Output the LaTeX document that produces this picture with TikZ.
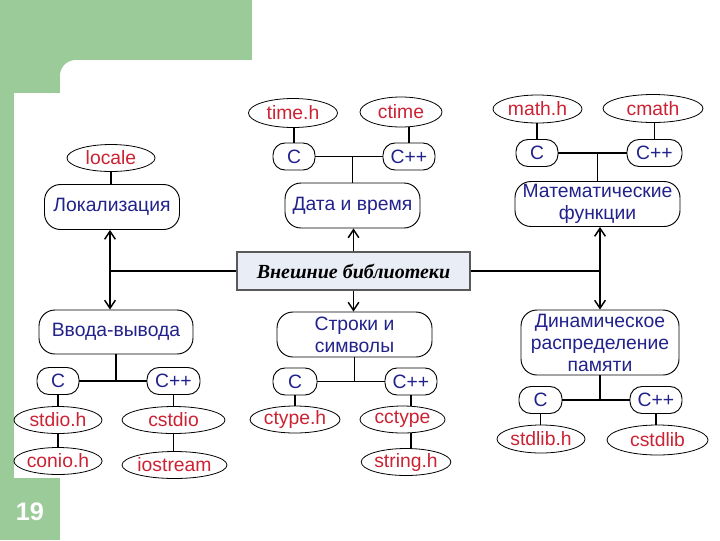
\documentclass[tikz,border=0pt]{standalone}
\usepackage{fontspec}
\setmainfont{Liberation Sans}
\newfontfamily\libserif{Liberation Serif}
\usetikzlibrary{arrows.meta,shapes.geometric}
\definecolor{slgreen}{HTML}{9CCB9A}
\definecolor{navy}{HTML}{22228C}
\definecolor{hred}{HTML}{CC2233}
\definecolor{cfill}{HTML}{E9EDF6}
\begin{document}
\begin{tikzpicture}[x=0.75pt,y=-0.75pt,
  sz/.style 2 args={minimum width={#1*0.75pt}, minimum height={#2*0.75pt}},
  rbox/.style={draw, line width=0.7pt, rounded corners=12pt, inner sep=0pt, align=center,
    text=navy, font=\fontsize{14.5}{16.5}\selectfont},
  cbox/.style={draw, line width=0.7pt, rounded corners=9pt, inner sep=0pt,
    text=navy, font=\fontsize{14.5}{16.5}\selectfont},
  ell/.style={draw, ellipse, line width=0.6pt, inner sep=0pt,
    text=hred, font=\fontsize{14.5}{16.5}\selectfont},
  conn/.style={line width=0.9pt},
  arr/.style={line width=1.1pt, -{Straight Barb[length=6pt,width=8pt]}}
]
\useasboundingbox (0,0) rectangle (720,540);
% background
\fill[white] (0,0) rectangle (720,540);
\fill[slgreen] (0,0) rectangle (252,60);
\fill[slgreen] (0,0) rectangle (60,93);
\fill[slgreen] (0,0) rectangle (14,540);
\fill[slgreen] (0,478) rectangle (60,540);
\fill[slgreen] (60,60) rectangle (76,76);
\fill[white] (76,76) circle[radius=12pt];
\node[text=white, font=\fontsize{19}{21}\selectfont\bfseries] (num) at (30,512) {19};

% central
\node[draw=black!65, fill=cfill, line width=0.8pt, sz={233}{38}, inner sep=0pt,
  font=\libserif\fontsize{15}{17}\selectfont\bfseries\itshape] (ext) at (353.5,271) {Внешние библиотеки};

% Локализация
\node[rbox, sz={135}{45}] (lok) at (112,207) {Локализация};
\node[ell, sz={88}{27}] (locale) at (111,158) {locale};

% Дата и время
\node[rbox, sz={135}{45}] (dt) at (352.5,205.5) {Дата и время};
\node[cbox, sz={42}{27}] (dtC) at (294,156.5) {C};
\node[cbox, sz={52}{27}] (dtCpp) at (409,156.5) {C++};
\node[ell, sz={89}{29}] (timeh) at (293,113) {time.h};
\node[ell, sz={82}{30}] (ctime) at (401,112) {ctime};

% Математические функции
\node[rbox, sz={165}{45}] (mat) at (597.5,204) {Математические\\функции};
\node[cbox, sz={42}{27}] (matC) at (537,153) {C};
\node[cbox, sz={55}{27}] (matCpp) at (654.5,153) {C++};
\node[ell, sz={89}{28}] (mathh) at (537.5,109) {math.h};
\node[ell, sz={100}{28}] (cmath) at (653,108.5) {cmath};

% Ввода-вывода
\node[rbox, sz={154}{44}] (vv) at (116,332) {Ввода-вывода};
\node[cbox, sz={42}{27}] (vvC) at (58,381) {C};
\node[cbox, sz={53}{27}] (vvCpp) at (173.5,381) {C++};
\node[ell, sz={88}{27}] (stdio) at (58,420) {stdio.h};
\node[ell, sz={88}{27}] (conio) at (58,461) {conio.h};
\node[ell, sz={103}{27}] (cstdio) at (173.5,420) {cstdio};
\node[ell, sz={105}{27}] (iostream) at (174.5,465) {iostream};

% Строки и символы
\node[rbox, sz={155}{45}] (str) at (354.5,334.5) {Строки и\\символы};
\node[cbox, sz={44}{27}] (strC) at (295,381.5) {C};
\node[cbox, sz={52}{27}] (strCpp) at (411,381.5) {C++};
\node[ell, sz={90}{27}] (ctype) at (295,419.5) {ctype.h};
\node[ell, sz={85}{27}] (cctype) at (402.5,419.5) {cctype};
\node[ell, sz={88}{27}] (stringh) at (406,462) {string.h};

% Динамическое распределение памяти
\node[rbox, sz={158}{65}] (din) at (600,342.5) {Динамическое\\распределение\\памяти};
\node[cbox, sz={43}{27}] (dinC) at (540.5,400) {C};
\node[cbox, sz={52}{27}] (dinCpp) at (656,400) {C++};
\node[ell, sz={88}{28}] (stdlib) at (541,439) {stdlib.h};
\node[ell, sz={101}{30}] (cstdlib) at (657.5,440) {cstdlib};

% junctions
\coordinate (jl) at (110,271);
\coordinate (jr) at (600,271);

% main connectors
\draw[conn] (ext.west) -- (jl);
\draw[conn] (ext.east) -- (jr);
\draw[arr] (jl) -- (jl |- lok.south);
\draw[arr] (jl) -- (jl |- vv.north);
\draw[arr] (jr) -- (jr |- mat.south);
\draw[arr] (jr) -- (jr |- din.north);
\draw[arr] (ext.north) -- (ext.north |- dt.south);
\draw[arr] (ext.south) -- (ext.south |- str.north);

% Локализация
\draw[conn] (lok.north -| locale.south) -- (locale.south);

% Дата и время
\draw[conn] (dtC.east) -- (dtCpp.west);
\draw[conn] (dt.north) -- (dt.north |- dtC.east);
\draw[conn] (dtC.north) -- (dtC.north |- timeh.south);
\draw[conn] (dtCpp.north) -- (dtCpp.north |- ctime.south);

% Математические
\draw[conn] (matC.east) -- (matCpp.west);
\draw[conn] (mat.north) -- (mat.north |- matC.east);
\draw[conn] (matC.north) -- (matC.north |- mathh.south);
\draw[conn] (matCpp.north) -- (matCpp.north |- cmath.south);

% Ввода-вывода
\draw[conn] (vvC.east) -- (vvCpp.west);
\draw[conn] (vv.south) -- (vv.south |- vvC.east);
\draw[conn] (vvC.south) -- (vvC.south |- stdio.north);
\draw[conn] (stdio.south) -- (stdio.south |- conio.north);
\draw[conn] (vvCpp.south) -- (vvCpp.south |- cstdio.north);
\draw[conn] (vvCpp.south |- cstdio.south) -- (vvCpp.south |- iostream.north);

% Строки
\draw[conn] (strC.east) -- (strCpp.west);
\draw[conn] (str.south) -- (str.south |- strC.east);
\draw[conn] (strC.south) -- (strC.south |- ctype.north);
\draw[conn] (strCpp.south) -- (strCpp.south |- cctype.north);
\draw[conn] (strCpp.south |- cctype.south) -- (strCpp.south |- stringh.north);

% Динамическое
\draw[conn] (dinC.east) -- (dinCpp.west);
\draw[conn] (din.south) -- (din.south |- dinC.east);
\draw[conn] (dinC.south) -- (dinC.south |- stdlib.north);
\draw[conn] (dinCpp.south) -- (dinCpp.south |- cstdlib.north);
\end{tikzpicture}
\end{document}
